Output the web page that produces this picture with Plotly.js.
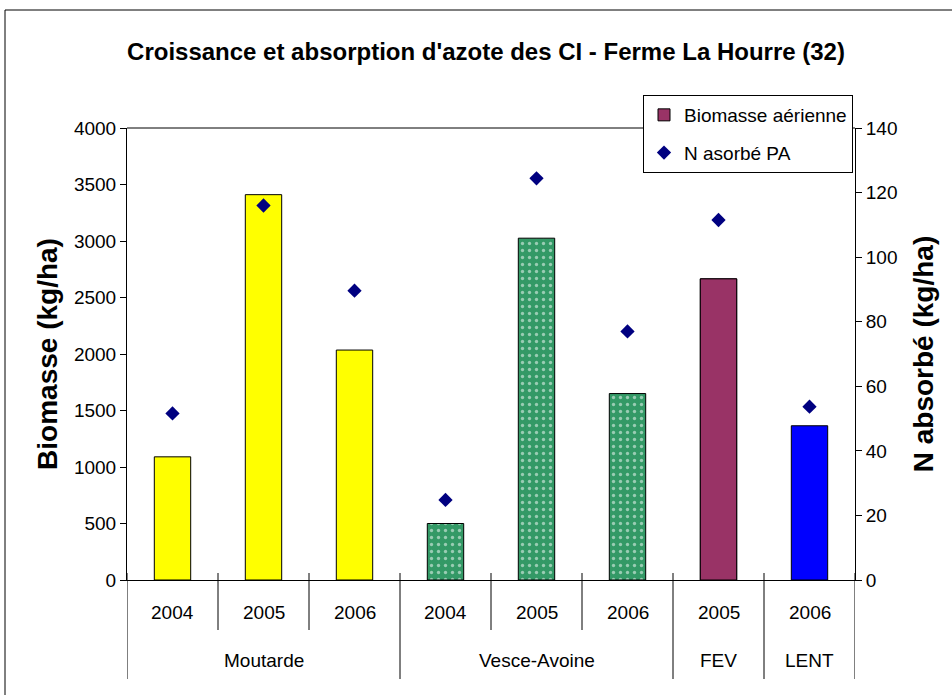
<!DOCTYPE html>
<html><head><meta charset="utf-8">
<script src="https://cdn.plot.ly/plotly-3.0.1.min.js"></script>
<style>html,body{margin:0;padding:0;background:#fff}</style>
</head><body><div id="chart" style="width:952px;height:695px"></div>
<script>
// ---- data ----
const groups = ['Moutarde','Moutarde','Moutarde','Vesce-Avoine','Vesce-Avoine','Vesce-Avoine','FEV','LENT'];
const years = ['2004','2005','2006','2004','2005','2006','2005','2006'];
const biomasse = [1090, 3410, 2035, 500, 3025, 1650, 2665, 1365];
const nAbsorbe = [51.6, 116, 89.6, 24.8, 124.4, 77, 111.5, 53.7];
const leftTicks = [0, 500, 1000, 1500, 2000, 2500, 3000, 3500, 4000];
const rightTicks = [0, 20, 40, 60, 80, 100, 120, 140];

// ---- styles ----
const barColors = ['#FFFF00','#FFFF00','#FFFF00','#339966','#339966','#339966','#993366','#0000FF'];
const barPatterns = ['','','','.','.','.','',''];
const FONT = '"Liberation Sans", Arial, sans-serif';

const idx = years.map((_, i) => i);
const legendIdx = groups.indexOf('FEV');

// pixel helpers for paper coords (plot area 127..855 x 128..580)
const PL = 127, PR = 855, PT = 128, PB = 580;
const py = p => (PB - p) / (PB - PT);
const px = p => (p - PL) / (PR - PL);

const traces = [
  {
    type: 'bar', x: idx, y: biomasse, width: 0.4, showlegend: false,
    marker: {
      color: barColors,
      line: { color: '#000', width: 1 },
      pattern: { shape: barPatterns, fillmode: 'overlay', fgcolor: '#123322', size: 7, solidity: 0.18 }
    },
    hoverinfo: 'y'
  },
  {
    type: 'bar', x: [idx[legendIdx]], y: [biomasse[legendIdx]], width: 0.4,
    name: 'Biomasse aérienne', legendgroup: 'a',
    marker: { color: barColors[legendIdx], line: { color: '#000', width: 1 } }
  },
  {
    type: 'scatter', mode: 'markers', x: idx, y: nAbsorbe, yaxis: 'y2',
    name: 'N asorbé PA', legendgroup: 'b',
    marker: { symbol: 'diamond', size: 11, color: '#000080' }
  }
];

const shapes = [];
// top plot border
shapes.push({ type: 'line', xref: 'paper', yref: 'paper', x0: 0, x1: 1, y0: 1, y1: 1, line: { color: '#000', width: 1 } });
// outer chart frame
shapes.push({ type: 'rect', xref: 'paper', yref: 'paper', x0: px(5), x1: px(990), y0: py(720), y1: py(10), line: { color: '#000', width: 1 }, fillcolor: 'rgba(0,0,0,0)' });
// category separators
for (let b = 0; b <= years.length; b++) {
  const isGroupEdge = b === 0 || b === years.length || groups[b] !== groups[b - 1];
  shapes.push({
    type: 'line', xref: 'x', yref: 'paper', x0: b - 0.5, x1: b - 0.5,
    y0: py(573), y1: py(isGroupEdge ? 679 : 630),
    line: { color: '#000', width: 1 }
  });
}

const annotations = [];
idx.forEach(i => annotations.push({
  x: i, y: py(612), xref: 'x', yref: 'paper', text: years[i], showarrow: false,
  yanchor: 'middle', font: { family: FONT, size: 19, color: '#000' }
}));
const uniqueGroups = [...new Set(groups)];
uniqueGroups.forEach(g => {
  const members = idx.filter(i => groups[i] === g);
  const c = (members[0] + members[members.length - 1]) / 2;
  annotations.push({
    x: c, y: py(660), xref: 'x', yref: 'paper', text: g, showarrow: false,
    yanchor: 'middle', font: { family: FONT, size: 19, color: '#000' }
  });
});

const layout = {
  width: 952, height: 695,
  margin: { l: PL, r: 952 - PR, t: PT, b: 695 - PB },
  paper_bgcolor: '#fff', plot_bgcolor: '#fff',
  barmode: 'overlay',
  title: {
    text: "Croissance et absorption d'azote des CI - Ferme La Hourre (32)",
    font: { family: FONT, size: 24, weight: 'bold', color: '#000' },
    x: 486 / 952, xref: 'container', xanchor: 'center',
    y: 1 - 52 / 695, yref: 'container', yanchor: 'middle'
  },
  xaxis: {
    type: 'linear', range: [-0.5, years.length - 0.5],
    showticklabels: false, ticks: '', showgrid: false, zeroline: false,
    showline: true, linecolor: '#000', linewidth: 1, fixedrange: true
  },
  yaxis: {
    range: [0, 4000], tickvals: leftTicks, ticks: 'outside', ticklen: 6, tickcolor: '#000',
    showgrid: false, zeroline: false, showline: true, linecolor: '#000', linewidth: 1,
    tickfont: { family: FONT, size: 19, color: '#000' },
    title: { text: 'Biomasse (kg/ha)', font: { family: FONT, size: 28, weight: 'bold', color: '#000' }, standoff: 8 }
  },
  yaxis2: {
    range: [0, 140], tickvals: rightTicks, overlaying: 'y', side: 'right',
    ticks: 'outside', ticklen: 6, tickcolor: '#000',
    showgrid: false, zeroline: false, showline: true, linecolor: '#000', linewidth: 1,
    tickfont: { family: FONT, size: 19, color: '#000' },
    title: { text: 'N absorbé (kg/ha)', font: { family: FONT, size: 28, weight: 'bold', color: '#000' }, standoff: 16 }
  },
  legend: {
    x: px(853), y: py(95), xanchor: 'right', yanchor: 'top',
    bgcolor: '#fff', bordercolor: '#000', borderwidth: 1,
    font: { family: FONT, size: 19, color: '#000' },
    traceorder: 'grouped', tracegroupgap: 10
  },
  shapes: shapes,
  annotations: annotations
};

Plotly.newPlot('chart', traces, layout, { displayModeBar: false, staticPlot: true });
</script>
</body></html>
